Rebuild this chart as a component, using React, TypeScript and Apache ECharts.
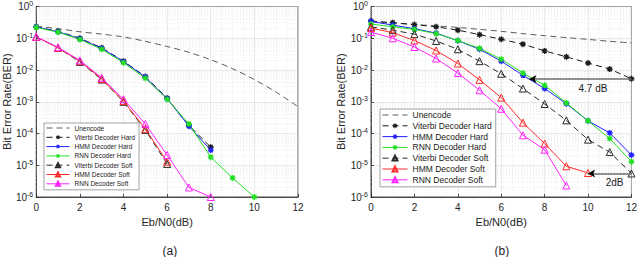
import React, { useEffect, useRef } from "react";
import * as echarts from "echarts";

// ---------- data ----------
const ebn0 = [0, 1, 2, 3, 4, 5, 6, 7, 8, 9, 10, 11, 12];
const xTicks = [0, 2, 4, 6, 8, 10, 12];
const seriesNames = [
  "Unencode",
  "Viterbi Decoder Hard",
  "HMM Decoder Hard",
  "RNN Decoder Hard",
  "Viterbi Decoder Soft",
  "HMM Decoder Soft",
  "RNN Decoder Soft",
];

// panel (a)
const unencodeA = [0.24, 0.2, 0.16, 0.135, 0.11, 0.08, 0.055, 0.036, 0.021, 0.011, 0.005, 0.002, 0.0007];
const viterbiHardA = [0.23, 0.165, 0.1, 0.05, 0.019, 0.0062, 0.0013, 0.00018, 0.000037];
const hmmHardA = [0.23, 0.16, 0.097, 0.048, 0.0185, 0.006, 0.00125, 0.00017, 0.00003];
const rnnHardA = [0.22, 0.155, 0.092, 0.045, 0.017, 0.0055, 0.0012, 0.0002, 0.000018, 0.000004, 0.000001];
const viterbiSoftA = [0.11, 0.05, 0.018, 0.005, 0.001, 0.00013, 0.000011];
const hmmSoftA = [0.11, 0.05, 0.019, 0.0052, 0.00105, 0.00014, 0.000013];
const rnnSoftA = [0.112, 0.052, 0.02, 0.0057, 0.0012, 0.0002, 0.000021, 0.000002, 0.000001];

// panel (b)
const unencodeB = [0.33, 0.3, 0.27, 0.245, 0.22, 0.19, 0.165, 0.14, 0.12, 0.105, 0.092, 0.08, 0.071];
const viterbiHardB = [0.35, 0.31, 0.27, 0.23, 0.18, 0.13, 0.093, 0.065, 0.04, 0.026, 0.0166, 0.0107, 0.0053];
const hmmHardB = [0.34, 0.26, 0.2, 0.145, 0.084, 0.045, 0.019, 0.0068, 0.0026, 0.00087, 0.00025, 0.000104, 0.000021];
const rnnHardB = [0.28, 0.23, 0.19, 0.14, 0.085, 0.048, 0.022, 0.008, 0.0033, 0.00092, 0.00025, 0.000069, 0.000013];
const viterbiSoftB = [0.23, 0.18, 0.135, 0.082, 0.045, 0.019, 0.0076, 0.0026, 0.00085, 0.00026, 0.000064, 0.000026, 0.0000055];
const hmmSoftB = [0.21, 0.15, 0.085, 0.041, 0.016, 0.0049, 0.00135, 0.00022, 0.000048, 0.0000093, 0.0000057];
const rnnSoftB = [0.156, 0.1, 0.053, 0.023, 0.008, 0.0023, 0.0006, 0.000088, 0.000031, 0.0000023];

// annotations in (b): gap arrows
const gapValues = [4.7, 2];
const gapLevels = [0.0052, 0.0000055];
const gapEnds = [12, 12];
const gapLabels = ["4.7 dB", "2dB"];

// minor grid values
const minorY: number[] = [];
for (let e = -6; e < 0; e++) for (let m = 2; m <= 9; m++) minorY.push(m * Math.pow(10, e));
const minorX = [0.5, 1, 1.5, 2.5, 3, 3.5, 4.5, 5, 5.5, 6.5, 7, 7.5, 8.5, 9, 9.5, 10.5, 11, 11.5];

// ---------- styles ----------
const AX = "#262626";
const FONT = "'Liberation Sans', Arial, Helvetica, sans-serif";
const labelInset = [24, 8];

function asteriskPath() {
  const L = 5, w = 1.1;
  let d = "";
  for (const deg of [0, 45, 90, 135]) {
    const t = (deg * Math.PI) / 180;
    const c = Math.cos(t), s = Math.sin(t);
    const pts = [[-L, -w], [L, -w], [L, w], [-L, w]].map(([x, y]) => [x * c - y * s, x * s + y * c]);
    d += "M" + pts.map((p) => p[0].toFixed(3) + " " + p[1].toFixed(3)).join(" L") + " Z ";
  }
  return "path://" + d;
}
const AST = asteriskPath();

type St = { color: string; dash?: number[]; marker: "none" | "ast" | "tri" };
const styles: Record<string, St> = {
  "Unencode": { color: "#5c5c5c", dash: [6, 4], marker: "none" },
  "Viterbi Decoder Hard": { color: "#1a1a1a", dash: [6, 4], marker: "ast" },
  "HMM Decoder Hard": { color: "#2020ff", marker: "ast" },
  "RNN Decoder Hard": { color: "#22e022", marker: "ast" },
  "Viterbi Decoder Soft": { color: "#2a2a2a", dash: [6, 4], marker: "tri" },
  "HMM Decoder Soft": { color: "#ff2b2b", marker: "tri" },
  "RNN Decoder Soft": { color: "#ff22ff", marker: "tri" },
};

function mk(name: string, ys: number[], gi: number, extra: any = {}) {
  const st = styles[name];
  const s: any = {
    type: "line",
    name,
    xAxisIndex: gi,
    yAxisIndex: gi,
    z: 3,
    data: ys.map((y, i) => [ebn0[i], y]),
    lineStyle: { color: st.color, width: 1, type: st.dash ? st.dash : "solid" },
    emphasis: { disabled: true },
    ...extra,
  };
  if (st.marker === "none") {
    s.symbol = "circle";
    s.symbolSize = 0;
    s.showSymbol = false;
    s.itemStyle = { color: "rgba(0,0,0,0)", borderWidth: 0 };
  } else if (st.marker === "ast") {
    s.symbol = AST;
    s.symbolSize = 6;
    s.itemStyle = { color: st.color, borderWidth: 0 };
  } else {
    s.symbol = "triangle";
    s.symbolSize = 7;
    s.itemStyle = { color: "rgba(255,255,255,0)", borderColor: st.color, borderWidth: 1 };
  }
  return s;
}

function minorGrid(gi: number) {
  const data: number[][] = [];
  minorY.forEach((v) => data.push([0, v, 0]));
  minorX.forEach((v) => data.push([v, 1, 1]));
  return {
    type: "custom",
    xAxisIndex: gi,
    yAxisIndex: gi,
    silent: true,
    z: 1,
    clip: true,
    data,
    encode: { x: 0, y: 1 },
    renderItem: (params: any, api: any) => {
      const k = api.value(2);
      let a, b;
      if (k === 0) {
        const v = api.value(1);
        a = api.coord([xTicks[0], v]);
        b = api.coord([xTicks[xTicks.length - 1], v]);
      } else {
        const v = api.value(0);
        a = api.coord([v, 1]);
        b = api.coord([v, 1e-6]);
      }
      return {
        type: "line",
        shape: { x1: a[0], y1: a[1], x2: b[0], y2: b[1] },
        style: { stroke: "#d9d9d9", lineWidth: 0.6, lineDash: [1, 2] },
      };
    },
  };
}

function xAxis(gi: number) {
  return {
    type: "value",
    gridIndex: gi,
    min: 0,
    max: 12,
    interval: 2,
    name: "Eb/N0(dB)",
    nameLocation: "middle",
    nameGap: 16,
    nameTextStyle: { fontSize: 11, color: AX, fontFamily: FONT },
    axisLine: { show: true, lineStyle: { color: AX, width: 0.8 } },
    axisTick: { show: true, inside: true, length: 3, lineStyle: { color: AX, width: 0.8 } },
    axisLabel: { fontSize: 10, color: AX, margin: 5, fontFamily: FONT },
    splitLine: { show: true, lineStyle: { color: "#dcdcdc", width: 0.6 } },
  };
}

function yAxis(gi: number) {
  return {
    type: "log",
    logBase: 10,
    gridIndex: gi,
    min: 1e-6,
    max: 1,
    splitNumber: 6,
    name: "Bit Error Rate(BER)",
    nameLocation: "middle",
    nameGap: 15,
    nameTextStyle: { fontSize: 11, color: AX, fontFamily: FONT },
    axisLine: { show: true, lineStyle: { color: AX, width: 0.8 } },
    axisTick: { show: true, inside: true, length: 3, lineStyle: { color: AX, width: 0.8 } },
    axisLabel: {
      margin: 3,
      formatter: (v: number) => {
        const e = Math.round(Math.log10(v));
        return "{b|10}{s|" + e + "}";
      },
      rich: {
        b: { fontSize: 10, color: AX, fontFamily: FONT },
        s: { fontSize: 7, color: AX, fontFamily: FONT, verticalAlign: "bottom", padding: [0, 0, 6, 0] },
      },
    },
    splitLine: { show: true, lineStyle: { color: "#dcdcdc", width: 0.6 } },
  };
}

function legend(left: number, top: number, fs: number, lh: number, gap: number, iw: number, ih: number) {
  return {
    data: seriesNames,
    orient: "vertical",
    left,
    top,
    itemWidth: iw,
    itemHeight: ih,
    itemGap: gap,
    padding: [1, 4, 2, 2],
    backgroundColor: "#ffffff",
    borderColor: "#8c8c8c",
    borderWidth: 0.8,
    selectedMode: false,
    lineStyle: { width: 1 },
    textStyle: { fontSize: fs, lineHeight: lh, color: "#1a1a1a", fontFamily: FONT },
  };
}

function buildOption() {
  const arrowData: any[] = [];
  gapValues.forEach((g, i) => {
    const tip = gapEnds[i] - g;
    arrowData.push([
      {
        coord: [tip, gapLevels[i]],
        symbol: "none",
        lineStyle: { color: "#6e6e6e", width: 1.5, type: "solid" },
        label: {
          show: true,
          formatter: gapLabels[i],
          position: "insideEndBottom",
          fontSize: 10,
          color: "#1a1a1a",
          fontFamily: FONT,
          distance: [labelInset[i], 4],
        },
      },
      { coord: [gapEnds[i], gapLevels[i]], symbol: "none" },
    ]);
    arrowData.push([
      { coord: [tip + 0.25, gapLevels[i]], symbol: "none", lineStyle: { color: "#000", width: 1, type: "solid" }, label: { show: false } },
      { coord: [tip, gapLevels[i]], symbol: "arrow", symbolSize: [6, 7] },
    ]);
  });
  return {
    animation: false,
    textStyle: { fontFamily: FONT },
    title: [
      { text: "(a)", left: 157.5, top: 240, textStyle: { fontSize: 12, fontWeight: "normal", color: AX, fontFamily: FONT } },
      { text: "(b)", left: 489.5, top: 240, textStyle: { fontSize: 12, fontWeight: "normal", color: AX, fontFamily: FONT } },
    ],
    legend: [legend(44, 123, 6.5, 8, 1.3, 23, 5), legend(380, 109, 8.5, 10, 0.8, 25, 6)],
    grid: [
      { left: 36, right: 342, top: 6, bottom: 60, show: true, borderColor: AX, borderWidth: 0.8, backgroundColor: "#fff" },
      { left: 371, right: 6, top: 6, bottom: 60, show: true, borderColor: AX, borderWidth: 0.8, backgroundColor: "#fff" },
    ],
    xAxis: [xAxis(0), xAxis(1)],
    yAxis: [yAxis(0), yAxis(1)],
    series: [
      minorGrid(0),
      minorGrid(1),
      mk("Unencode", unencodeA, 0, { smooth: 0.3 }),
      mk("Viterbi Decoder Hard", viterbiHardA, 0),
      mk("HMM Decoder Hard", hmmHardA, 0),
      mk("RNN Decoder Hard", rnnHardA, 0),
      mk("Viterbi Decoder Soft", viterbiSoftA, 0),
      mk("HMM Decoder Soft", hmmSoftA, 0),
      mk("RNN Decoder Soft", rnnSoftA, 0),
      mk("Unencode", unencodeB, 1, { smooth: 0.3 }),
      mk("Viterbi Decoder Hard", viterbiHardB, 1),
      mk("HMM Decoder Hard", hmmHardB, 1),
      mk("RNN Decoder Hard", rnnHardB, 1),
      mk("Viterbi Decoder Soft", viterbiSoftB, 1, {
        markLine: {
          silent: true,
          symbol: "none",
          emphasis: { disabled: true },
          data: arrowData,
        },
      }),
      mk("HMM Decoder Soft", hmmSoftB, 1),
      mk("RNN Decoder Soft", rnnSoftB, 1),
    ],
  };
}

export default function App() {
  const ref = useRef<HTMLDivElement>(null);
  useEffect(() => {
    const chart = echarts.init(ref.current!, null, { renderer: "svg" });
    chart.setOption(buildOption() as any);
    return () => chart.dispose();
  }, []);
  return (
    <div
      ref={ref}
      style={{ position: "fixed", left: 0, top: 0, width: 640, height: 257, background: "#fff" }}
    />
  );
}
